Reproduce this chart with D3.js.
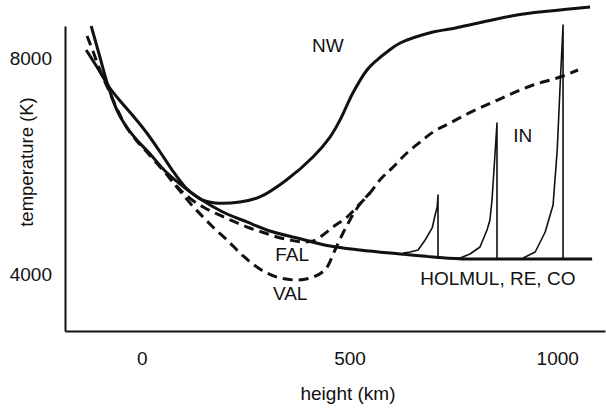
<!DOCTYPE html>
<html>
<head>
<meta charset="utf-8">
<script src="https://cdn.jsdelivr.net/npm/d3@7"></script>
<style>
  html, body { margin: 0; padding: 0; background: #fff; }
  svg { display: block; }
  text { font-family: "Liberation Sans", Arial, Helvetica, sans-serif; fill: #111; }
</style>
</head>
<body>
<svg id="chart" width="606" height="408"></svg>
<script>
// ---- data (height in km, temperature in K) ----
const xTicks = [0, 500, 1000];
const yTicks = [4000, 8000];

const holmulH = [-134, -105, -77, -50, -21, 12, 44, 73, 104, 145, 195, 253, 308, 374, 453, 525, 622, 701, 783, 1084];
const holmulT = [8149, 7797, 7445, 7186, 6926, 6612, 6260, 5926, 5612, 5371, 5149, 4964, 4797, 4667, 4519, 4445, 4371, 4315, 4278, 4278];

const nwH = [-122, -101, -82, -60, -40, -12, 20, 56, 104, 145, 176, 236, 284, 345, 412, 453, 477, 508, 542, 566, 590, 622, 701, 742, 821, 903, 983, 1079];
const nwT = [8593, 8019, 7500, 7037, 6760, 6482, 6223, 5908, 5593, 5371, 5315, 5334, 5427, 5723, 6167, 6537, 6852, 7352, 7778, 7963, 8112, 8278, 8482, 8538, 8667, 8797, 8871, 8945];

const falH = [-132, -117, -101, -82, -62, -40, -14, 12, 37, 63, 88, 121, 152, 181, 224, 260, 296, 325, 357, 388, 412, 436, 460, 494, 520, 549, 573, 605, 638, 670, 701, 742, 783, 862, 942, 1007, 1050];
const falT = [8408, 8112, 7778, 7445, 7093, 6760, 6482, 6260, 6041, 5815, 5593, 5371, 5223, 5112, 4964, 4852, 4760, 4686, 4630, 4593, 4611, 4723, 4871, 5056, 5260, 5501, 5741, 5982, 6241, 6445, 6630, 6797, 6963, 7241, 7500, 7649, 7778];

// VAL departs from FAL near 60 km and rejoins it near 550 km
const valH = [63, 88, 116, 145, 171, 205, 244, 284, 333, 374, 412, 446, 465, 482, 501, 520, 549];
const valT = [5815, 5575, 5315, 5075, 4871, 4630, 4334, 4093, 3927, 3889, 3945, 4130, 4445, 4723, 5001, 5241, 5501];

// IN: three spikes rising from the HOLMUL base
const spike1H = [629, 646, 665, 682, 699, 706, 711, 713, 713];
const spike1T = [4389, 4408, 4445, 4630, 4853, 5093, 5241, 5463, 4278];
const spike2H = [766, 790, 814, 831, 838, 843, 855, 855];
const spike2T = [4297, 4371, 4501, 4815, 5001, 5371, 6797, 4278];
const spike3H = [918, 947, 971, 990, 1000, 1007, 1014, 1014];
const spike3T = [4297, 4408, 4778, 5278, 6297, 7500, 8612, 4278];

const labels = [
  { text: "NW", h: 448, t: 8110 },
  { text: "IN", h: 917, t: 6440 },
  { text: "FAL", h: 362, t: 4240 },
  { text: "VAL", h: 357, t: 3520 },
  { text: "HOLMUL, RE, CO", h: 857, t: 3790 }
];

// ---- layout ----
const svg = d3.select("#chart");
const x = d3.scaleLinear().domain([-185, 1115]).range([65, 605]);
const y = d3.scaleLinear().domain([2945, 8593]).range([331, 26]);

const zip = (hs, ts) => hs.map((h, i) => [h, ts[i]]);
const smooth = d3.line().x(d => x(d[0])).y(d => y(d[1])).curve(d3.curveMonotoneX);
const straight = d3.line().x(d => x(d[0])).y(d => y(d[1]));

// axes
const xAxis = d3.axisBottom(x).tickValues(xTicks).tickSize(0).tickSizeOuter(0).tickPadding(20.5).tickFormat(d3.format("d"));
const yAxis = d3.axisLeft(y).tickValues(yTicks).tickSize(0).tickSizeOuter(0).tickPadding(13).tickFormat(d3.format("d"));

const gx = svg.append("g").attr("transform", "translate(0,331)").call(xAxis);
const gy = svg.append("g").attr("transform", "translate(65,0)").call(yAxis);
[gx, gy].forEach(g => {
  g.select(".domain").attr("stroke", "#111").attr("stroke-width", 2);
  g.selectAll("text").attr("font-size", 19).attr("fill", "#111")
    .attr("font-family", "\"Liberation Sans\", Arial, sans-serif");
});

// axis titles
svg.append("text").attr("x", 348).attr("y", 400).attr("text-anchor", "middle")
  .attr("font-size", 19).text("height (km)");
svg.append("text").attr("transform", "translate(33,162) rotate(-90)").attr("text-anchor", "middle")
  .attr("font-size", 18.5).text("temperature (K)");

// curves
const g = svg.append("g").attr("fill", "none").attr("stroke", "#111").attr("stroke-linejoin", "round");

g.append("path").attr("d", smooth(zip(falH, falT)))
  .attr("stroke-width", 3).attr("stroke-dasharray", "10,6");
g.append("path").attr("d", smooth(zip(valH, valT)))
  .attr("stroke-width", 3).attr("stroke-dasharray", "10,6").attr("stroke-dashoffset", 4);

g.append("path").attr("d", smooth(zip(holmulH, holmulT))).attr("stroke-width", 3);
g.append("path").attr("d", d3.line().x(d => x(d[0])).y(d => y(d[1])).curve(d3.curveCatmullRom.alpha(0.5))(zip(nwH, nwT))).attr("stroke-width", 3);

[[spike1H, spike1T], [spike2H, spike2T], [spike3H, spike3T]].forEach(([hs, ts]) => {
  g.append("path").attr("d", straight(zip(hs, ts))).attr("stroke-width", 1.6);
});

// curve labels
svg.append("g").selectAll("text").data(labels).join("text")
  .attr("x", d => x(d.h)).attr("y", d => y(d.t))
  .attr("text-anchor", "middle").attr("font-size", 19)
  .text(d => d.text);
</script>
</body>
</html>
